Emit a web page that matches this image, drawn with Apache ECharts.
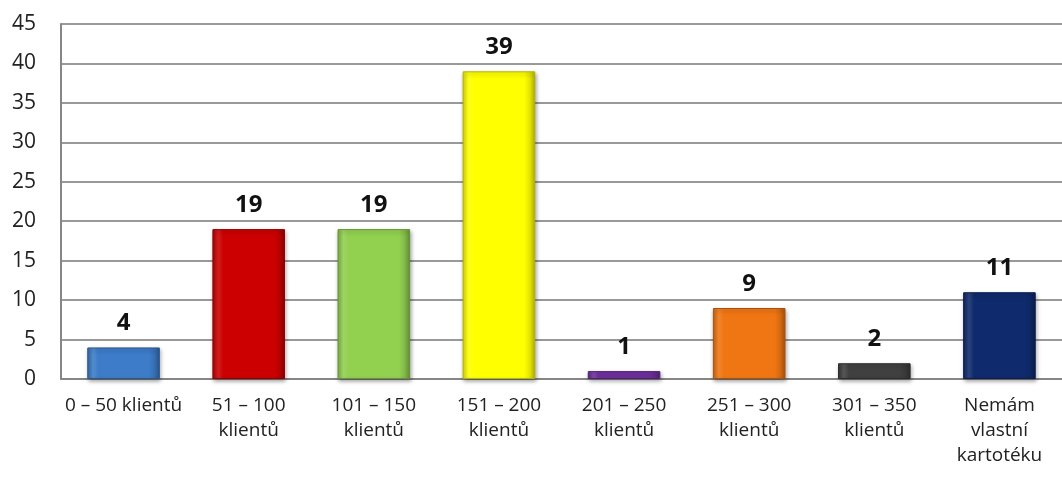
<!DOCTYPE html>
<html><head><meta charset="utf-8">
<script src="https://cdn.jsdelivr.net/npm/echarts@6/dist/echarts.min.js"></script>
<style>html,body{margin:0;padding:0;background:#fff}#c{width:1062px;height:479px}</style>
</head><body><div id="c"></div>
<script>
const categories = ['0 – 50 klientů', '51 – 100\nklientů', '101 – 150\nklientů', '151 – 200\nklientů', '201 – 250\nklientů', '251 – 300\nklientů', '301 – 350\nklientů', 'Nemám\nvlastní\nkartotéku'];
const values = [4, 19, 19, 39, 1, 9, 2, 11];
const barColors = ['#3d7cc9', '#cc0000', '#92d050', '#ffff00', '#7030a0', '#f07613', '#404040', '#0f2b6e'];
const yTicks = {min: 0, max: 45, interval: 5};

function shade(hex, f) {
  const n = parseInt(hex.slice(1), 16);
  let r = (n >> 16) & 255, g = (n >> 8) & 255, b = n & 255;
  if (f > 0) { r += (255 - r) * f; g += (255 - g) * f; b += (255 - b) * f; }
  else { r *= 1 + f; g *= 1 + f; b *= 1 + f; }
  return 'rgb(' + Math.round(r) + ',' + Math.round(g) + ',' + Math.round(b) + ')';
}

const chart = echarts.init(document.getElementById('c'));
chart.setOption({
  animation: false,
  grid: {left: 61, right: 0, top: 24, bottom: 100},
  xAxis: {
    type: 'category', data: categories,
    axisLine: {lineStyle: {color: '#868686', width: 2}},
    axisTick: {show: false},
    axisLabel: {color: '#222', fontFamily: 'Open Sans', fontSize: 19, lineHeight: 25, margin: 14, interval: 0}
  },
  yAxis: {
    type: 'value', min: yTicks.min, max: yTicks.max, interval: yTicks.interval,
    axisLine: {show: true, lineStyle: {color: '#868686', width: 2}},
    axisTick: {show: false},
    splitLine: {lineStyle: {color: '#999', width: 2}},
    axisLabel: {color: '#222', fontFamily: 'Open Sans', fontSize: 21, margin: 25}
  },
  series: [{
    type: 'bar', barWidth: '58%',
    data: values.map((v, i) => ({
      value: v,
      itemStyle: {
        color: {type: 'linear', x: 0, y: 0, x2: 1, y2: 0, colorStops: [
          {offset: 0, color: shade(barColors[i], -0.15)},
          {offset: 0.08, color: shade(barColors[i], 0.12)},
          {offset: 0.15, color: barColors[i]},
          {offset: 0.85, color: barColors[i]},
          {offset: 0.92, color: shade(barColors[i], -0.1)},
          {offset: 1, color: shade(barColors[i], -0.3)}
        ]},
        borderColor: shade(barColors[i], -0.3), borderWidth: 1,
        shadowColor: 'rgba(0,0,0,0.35)', shadowBlur: 4, shadowOffsetX: 1, shadowOffsetY: 2
      }
    })),
    label: {show: true, position: 'top', distance: 12, color: '#111', fontFamily: 'Open Sans', fontWeight: 'bold', fontSize: 24}
  }]
});
</script></body></html>
